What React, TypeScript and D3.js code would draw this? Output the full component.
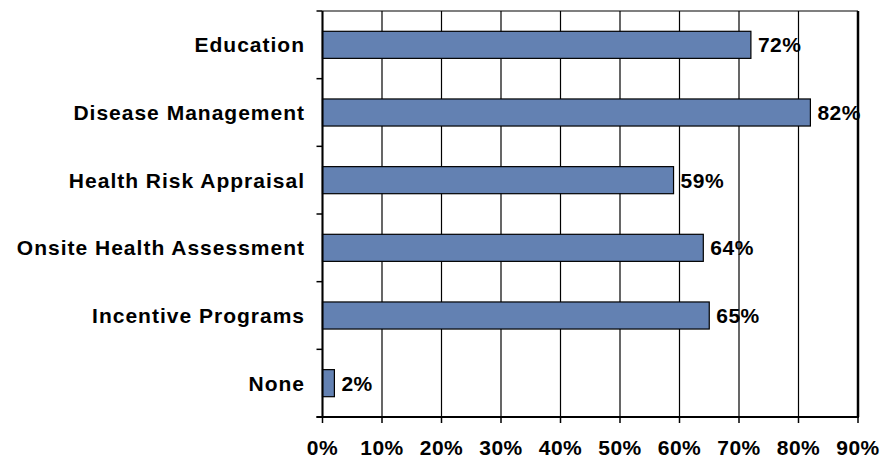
import React from "react";
import * as d3 from "d3";

const categories = [
  "Education",
  "Disease Management",
  "Health Risk Appraisal",
  "Onsite Health Assessment",
  "Incentive Programs",
  "None",
];
const values = [72, 82, 59, 64, 65, 2];
const xTicks = [0, 10, 20, 30, 40, 50, 60, 70, 80, 90];

const W = 882;
const H = 459;
const M = { left: 322.5, right: 24, top: 11, bottom: 42 };

export default function App() {
  const x = d3.scaleLinear().domain([0, 90]).range([M.left, W - M.right]);
  const y = d3
    .scaleBand<string>()
    .domain(categories)
    .range([M.top, H - M.bottom])
    .paddingInner(0.6)
    .paddingOuter(0.3);
  const boundaries = d3
    .range(categories.length + 1)
    .map((i) => M.top + i * ((H - M.bottom - M.top) / categories.length));
  const font = "Arial, 'Liberation Sans', sans-serif";
  const x0 = x(0);
  const x1 = x(90);
  const yTop = M.top;
  const yBot = H - M.bottom;
  return (
    <svg
      width={W}
      height={H}
      style={{ position: "absolute", left: 0, top: 0, background: "#fff" }}
      fontFamily={font}
    >
      {/* gridlines */}
      {xTicks.map((t) => (
        <line key={"g" + t} x1={x(t)} x2={x(t)} y1={yTop} y2={yBot} stroke="#000" strokeWidth={1.2} />
      ))}
      <line x1={x0} x2={x1} y1={yTop} y2={yTop} stroke="#000" strokeWidth={1.2} />
      <line x1={x1} x2={x1} y1={yTop} y2={yBot} stroke="#000" strokeWidth={2.5} />
      {/* bars */}
      {categories.map((c, i) => (
        <g key={c}>
          <rect
            x={x(0)}
            y={y(c)}
            width={x(values[i]) - x(0)}
            height={y.bandwidth()}
            fill="#6381B2"
            stroke="#000"
            strokeWidth={1.2}
          />
          <text
            x={x(values[i]) + 7}
            y={(y(c) as number) + y.bandwidth() / 2}
            dy="0.36em"
            fontSize={21}
            fontWeight="bold"
            letterSpacing={0.5}
            fill="#000"
          >
            {values[i]}%
          </text>
          <text
            x={305}
            y={(y(c) as number) + y.bandwidth() / 2}
            dy="0.36em"
            fontSize={21}
            fontWeight="bold"
            letterSpacing={1.0}
            textAnchor="end"
            fill="#000"
          >
            {c}
          </text>
        </g>
      ))}
      {/* axes */}
      <line x1={x0} x2={x0} y1={yTop} y2={yBot} stroke="#000" strokeWidth={2} />
      {boundaries.map((b, i) => (
        <line key={"yt" + i} x1={x0 - 6} x2={x0} y1={b} y2={b} stroke="#000" strokeWidth={1.5} />
      ))}
      <line x1={x0 - 6} x2={x1 + 1} y1={yBot} y2={yBot} stroke="#000" strokeWidth={2} />
      {xTicks.map((t) => (
        <g key={"xt" + t}>
          <line x1={x(t)} x2={x(t)} y1={yBot} y2={yBot + 6} stroke="#000" strokeWidth={1.5} />
          <text
            x={x(t)}
            y={455}
            fontSize={21}
            fontWeight="bold"
            letterSpacing={0.5}
            textAnchor="middle"
            fill="#000"
          >
            {t}%
          </text>
        </g>
      ))}
    </svg>
  );
}
